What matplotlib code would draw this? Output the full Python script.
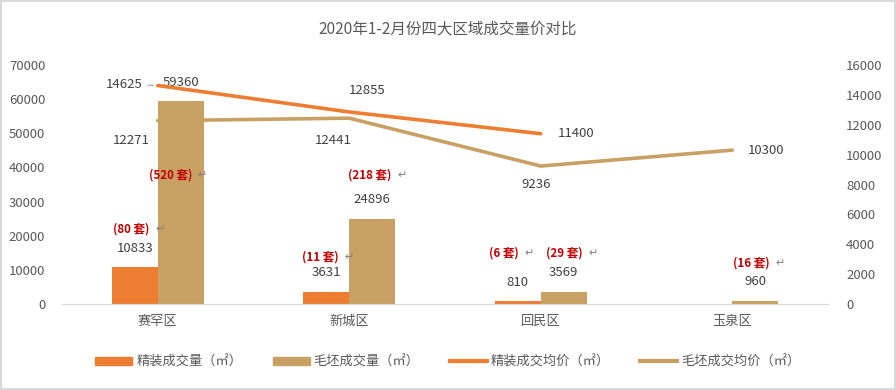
import numpy as np
import matplotlib
matplotlib.use("Agg")
import matplotlib.pyplot as plt
from matplotlib.patches import Patch
from matplotlib.lines import Line2D
from matplotlib.offsetbox import TextArea, HPacker, AnnotationBbox

plt.rcParams['font.family'] = ['Noto Sans CJK SC', 'DejaVu Sans']

# data
districts = ['赛罕区', '新城区', '回民区', '玉泉区']
fine_area = [10833, 3631, 810, np.nan]        # 精装成交量
rough_area = [59360, 24896, 3569, 960]        # 毛坯成交量
fine_price = [14625, 12855, 11400, np.nan]    # 精装成交均价
rough_price = [12271, 12441, 9236, 10300]     # 毛坯成交均价
fine_units = [80, 11, 6, None]                # 套数
rough_units = [520, 218, 29, 16]

title = '2020年1-2月份四大区域成交量价对比'
legend_labels = ['精装成交量（㎡）', '毛坯成交量（㎡）', '精装成交均价（㎡）', '毛坯成交均价（㎡）']

# layout bits (not data)
fine_units_y = [21966, 13766, 14937, None]
rough_units_y = [37782, 37782, 14937, 12008]
fine_units_dx = [4, 2, -6, 0]
rough_units_dx = [-3, 5, 8, 4]
fine_price_off = [(-34, 1), (18, 21), (35, 0), None]
rough_price_off = [(-27, -20), (-16, -22), (-5, -18), (34, 0)]

c_fine = '#ED7D31'
c_rough = '#C9A063'
c_text = '#404040'
c_tick = '#595959'
c_red = '#C00000'

fig = plt.figure(figsize=(8.96, 3.9), dpi=100, edgecolor='#d9d9d9', linewidth=1.5)
ax = fig.add_axes([62 / 896, 1 - 304 / 390, (828 - 62) / 896, (304 - 65) / 390])
ax2 = ax.twinx()

x = np.arange(len(districts))
w = 0.24
ax.bar(x - w / 2, fine_area, w, color=c_fine, zorder=2)
ax.bar(x + w / 2, rough_area, w, color=c_rough, zorder=2)

ax.set_xlim(-0.5, len(districts) - 0.5)
ax.set_ylim(0, 70000)
ax.set_yticks(np.arange(0, 70001, 10000))
ax2.set_ylim(0, 16000)
ax2.set_yticks(np.arange(0, 16001, 2000))
ax.set_xticks(x)
ax.set_xticklabels(districts)

for a in (ax, ax2):
    for s in a.spines.values():
        s.set_visible(False)
    a.tick_params(length=0, colors=c_tick, labelsize=9.5)
ax.spines['bottom'].set_visible(True)
ax.spines['bottom'].set_color('#d9d9d9')
ax.tick_params(axis='y', pad=12)
ax.tick_params(axis='x', pad=8)
ax2.tick_params(axis='y', pad=13)

ax2.plot(x, fine_price, color=c_fine, lw=2.6, solid_capstyle='round', zorder=3)
ax2.plot(x, rough_price, color=c_rough, lw=2.6, solid_capstyle='round', zorder=3)

# bar value labels
for i in range(len(districts)):
    for xv, v in ((x[i] - w / 2, fine_area[i]), (x[i] + w / 2, rough_area[i])):
        if np.isnan(v):
            continue
        ax.annotate(f'{v:.0f}', (xv, v), xytext=(0, 19), textcoords='offset pixels',
                    ha='center', va='center', fontsize=9.5, color=c_text)

# unit labels
def unit_label(xv, yv, n, dx):
    red = TextArea(f'({n} 套)', textprops=dict(color=c_red, fontsize=8.3, fontweight='bold'))
    arrow = TextArea('↵', textprops=dict(color='#808080', fontsize=8))
    box = HPacker(children=[red, arrow], align='center', pad=0, sep=4)
    ab = AnnotationBbox(box, (xv, yv), xybox=(dx, 0), boxcoords='offset pixels',
                        frameon=False, box_alignment=(0.5, 0.5), pad=0)
    ax.add_artist(ab)

for i in range(len(districts)):
    if fine_units[i] is not None:
        unit_label(x[i] - w / 2, fine_units_y[i], fine_units[i], fine_units_dx[i])
    if rough_units[i] is not None:
        unit_label(x[i] + w / 2, rough_units_y[i], rough_units[i], rough_units_dx[i])

# price labels
for i in range(len(districts)):
    if fine_price_off[i] is not None:
        props = None
        if i == 0:
            props = dict(arrowstyle='-', color='#a6a6a6', lw=0.8, shrinkA=2, shrinkB=3)
        ax2.annotate(f'{fine_price[i]:.0f}', (x[i], fine_price[i]), xytext=fine_price_off[i],
                     textcoords='offset pixels', ha='center', va='center', fontsize=9.5,
                     color=c_text, arrowprops=props)
    ax2.annotate(f'{rough_price[i]:.0f}', (x[i], rough_price[i]), xytext=rough_price_off[i],
                 textcoords='offset pixels', ha='center', va='center', fontsize=9.5, color=c_text)

fig.text(0.5, 1 - 29 / 390, title, ha='center', va='center', fontsize=11.2, color=c_tick)

handles = [Patch(color=c_fine), Patch(color=c_rough),
           Line2D([], [], color=c_fine, lw=3), Line2D([], [], color=c_rough, lw=3)]
leg = fig.legend(handles, legend_labels, loc='center', bbox_to_anchor=(0.5, 1 - 362 / 390),
                 ncol=4, frameon=False, fontsize=9.5, handlelength=2.8, handleheight=0.5,
                 handletextpad=0.3, columnspacing=2.3, labelcolor=c_tick)

fig.savefig('out.png', dpi=100)
